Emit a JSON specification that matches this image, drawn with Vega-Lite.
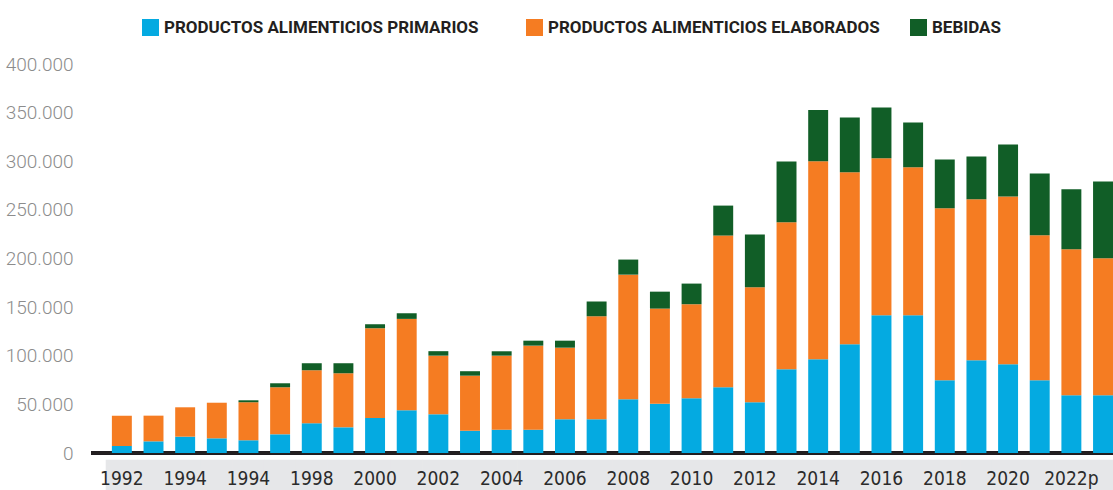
{
  "$schema": "https://vega.github.io/schema/vega-lite/v6.json",
  "width": 1022,
  "height": 389,
  "autosize": {"type": "none"},
  "padding": {"left": 91, "top": 64, "right": 0, "bottom": 37},
  "config": {"view": {"stroke": null}},
  "datasets": {
    "wide": [
      {"anio": "1992", "p": 7200, "e": 31200, "b": 0},
      {"anio": "1993", "p": 12000, "e": 26400, "b": 0},
      {"anio": "1994", "p": 16800, "e": 30200, "b": 0},
      {"anio": "1995", "p": 15100, "e": 36600, "b": 0},
      {"anio": "1996", "p": 13100, "e": 39100, "b": 2000},
      {"anio": "1997", "p": 19200, "e": 48400, "b": 4100},
      {"anio": "1998", "p": 30600, "e": 54500, "b": 7200},
      {"anio": "1999", "p": 26400, "e": 55600, "b": 10300},
      {"anio": "2000", "p": 36000, "e": 92300, "b": 4100},
      {"anio": "2001", "p": 43900, "e": 94000, "b": 5800},
      {"anio": "2002", "p": 39800, "e": 60300, "b": 4600},
      {"anio": "2003", "p": 22900, "e": 56600, "b": 4600},
      {"anio": "2004", "p": 24000, "e": 76100, "b": 4500},
      {"anio": "2005", "p": 24000, "e": 86400, "b": 5100},
      {"anio": "2006", "p": 34700, "e": 73600, "b": 7200},
      {"anio": "2007", "p": 34700, "e": 105900, "b": 15100},
      {"anio": "2008", "p": 55200, "e": 128200, "b": 15500},
      {"anio": "2009", "p": 50700, "e": 97800, "b": 17400},
      {"anio": "2010", "p": 56300, "e": 96700, "b": 21200},
      {"anio": "2011", "p": 67600, "e": 156000, "b": 30800},
      {"anio": "2012", "p": 52200, "e": 118300, "b": 54100},
      {"anio": "2013", "p": 86100, "e": 151200, "b": 62400},
      {"anio": "2014", "p": 96400, "e": 203700, "b": 52500},
      {"anio": "2015", "p": 111800, "e": 177000, "b": 56200},
      {"anio": "2016", "p": 141700, "e": 161500, "b": 52100},
      {"anio": "2017", "p": 141700, "e": 152200, "b": 45900},
      {"anio": "2018", "p": 74800, "e": 176900, "b": 50100},
      {"anio": "2019", "p": 95400, "e": 165600, "b": 43800},
      {"anio": "2020", "p": 91200, "e": 172500, "b": 53500},
      {"anio": "2021", "p": 74800, "e": 149200, "b": 63400},
      {"anio": "2022p", "p": 59400, "e": 150200, "b": 61700},
      {"anio": "2023p", "p": 59400, "e": 140900, "b": 78800}
    ],
    "series": [
      {"clave": "p", "serie": "PRODUCTOS ALIMENTICIOS PRIMARIOS", "orden": 1},
      {"clave": "e", "serie": "PRODUCTOS ALIMENTICIOS ELABORADOS", "orden": 2},
      {"clave": "b", "serie": "BEBIDAS", "orden": 3}
    ]
  },
  "data": {"name": "wide"},
  "transform": [
    {"fold": ["p", "e", "b"], "as": ["clave", "valor"]},
    {"lookup": "clave", "from": {"data": {"name": "series"}, "key": "clave", "fields": ["serie", "orden"]}}
  ],
  "layer": [
    {
      "transform": [{"filter": "datum.clave == 'p'"}],
      "mark": {"type": "bar", "color": "#e6e7e9", "width": {"band": 1.62}, "clip": false},
      "encoding": {
        "x": {"field": "anio", "type": "ordinal", "sort": null},
        "y": {"datum": -7000, "type": "quantitative"},
        "y2": {"datum": -42000}
      }
    },
    {
      "mark": {"type": "rule", "color": "#231f20", "strokeWidth": 2.5},
      "encoding": {"y": {"datum": 0, "type": "quantitative"}}
    },
    {
      "mark": {"type": "bar"},
      "encoding": {
        "x": {
          "field": "anio",
          "type": "ordinal",
          "sort": null,
          "scale": {"paddingInner": 0.37, "paddingOuter": 0.33, "align": 1},
          "axis": {
            "title": null,
            "zindex": 1,
            "values": ["1992", "1994", "1996", "1998", "2000", "2002", "2004", "2006", "2008", "2010", "2012", "2014", "2016", "2018", "2020", "2022p"],
            "labelExpr": "datum.value == '1996' ? '1994' : datum.value",
            "labelAngle": 0,
            "labelAlign": "center",
            "ticks": false,
            "tickSize": 0,
            "grid": false,
            "domain": false,
            "labelBaseline": "middle",
            "labelPadding": 25,
            "labelFont": "DejaVu Sans Condensed",
            "labelFontSize": 19,
            "labelColor": "#2b2b2b"
          }
        },
        "y": {
          "field": "valor",
          "type": "quantitative",
          "stack": "zero",
          "scale": {"domain": [0, 400000]},
          "axis": {
            "title": null,
            "values": [0, 50000, 100000, 150000, 200000, 250000, 300000, 350000, 400000],
            "labelExpr": "replace(format(datum.value, ','), regexp(',', 'g'), '.')",
            "domain": false,
            "ticks": false,
            "tickSize": 0,
            "labelPadding": 18,
            "labelFont": "Roboto",
            "labelFontWeight": 300,
            "labelFontSize": 19,
            "labelColor": "#8c8c8c",
            "gridColor": "#e2e2e2",
            "gridWidth": 1.5
          }
        },
        "color": {
          "field": "serie",
          "type": "nominal",
          "scale": {
            "domain": ["PRODUCTOS ALIMENTICIOS PRIMARIOS", "PRODUCTOS ALIMENTICIOS ELABORADOS", "BEBIDAS"],
            "range": ["#04aae1", "#f57c22", "#115e27"]
          },
          "legend": {
            "title": null,
            "orient": "none",
            "legendX": 51,
            "legendY": -45,
            "direction": "horizontal",
            "symbolType": "square",
            "symbolSize": 289,
            "symbolStrokeWidth": 0,
            "symbolOpacity": 1,
            "labelFont": "Roboto",
            "labelFontSize": 17,
            "labelFontWeight": "bold",
            "labelColor": "#231f20",
            "labelLimit": 0,
            "labelOffset": 5,
            "columnPadding": 30,
            "gridAlign": "all"
          }
        },
        "order": {"field": "orden", "type": "quantitative"}
      }
    }
  ]
}
